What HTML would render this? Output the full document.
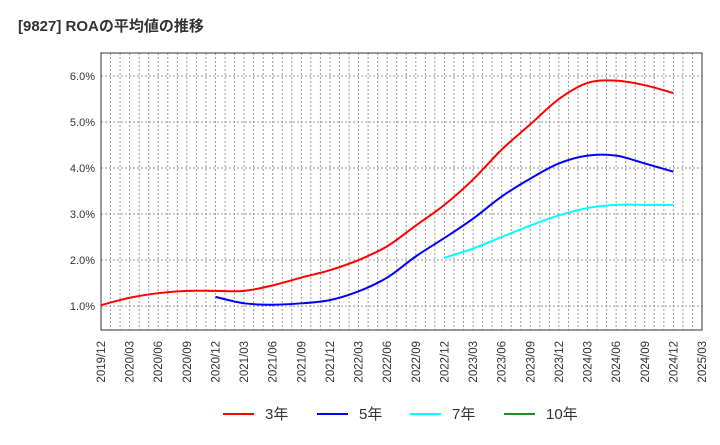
<!DOCTYPE html>
<html><head><meta charset="utf-8"><style>
body{margin:0;background:#fff;width:720px;height:440px;overflow:hidden;font-family:"Liberation Sans","Noto Sans CJK JP",sans-serif}
</style></head><body>
<svg id="c" width="720" height="440" xmlns="http://www.w3.org/2000/svg">
<text x="18" y="31" font-size="15" font-weight="bold" fill="#333">[9827]  ROAの平均値の推移</text>
</svg>
<script>
const categories=["2019/12","2020/03","2020/06","2020/09","2020/12","2021/03","2021/06","2021/09","2021/12","2022/03","2022/06","2022/09","2022/12","2023/03","2023/06","2023/09","2023/12","2024/03","2024/06","2024/09","2024/12","2025/03"];
const yTicks=[1,2,3,4,5,6];
const s3=[1.02,1.18,1.28,1.33,1.33,1.33,1.45,1.62,1.78,2.0,2.3,2.75,3.2,3.75,4.4,4.95,5.5,5.85,5.9,5.8,5.63];
const s5=[null,null,null,null,1.2,1.06,1.03,1.06,1.13,1.32,1.62,2.08,2.48,2.9,3.38,3.77,4.1,4.27,4.27,4.1,3.92];
const s7=[null,null,null,null,null,null,null,null,null,null,null,null,2.05,2.25,2.5,2.75,2.97,3.13,3.2,3.2,3.2];
const s10=[];
const L=101,R=702,T=53,B=330,ymin=0.48,ymax=6.5;
const NS="http://www.w3.org/2000/svg",svg=document.getElementById('c');
const xs=i=>L+i*(R-L)/(categories.length-1);
const ys=v=>B-(v-ymin)/(ymax-ymin)*(B-T);
function mk(t,a){const e=document.createElementNS(NS,t);for(const k in a)e.setAttribute(k,a[k]);svg.appendChild(e);return e;}
const bg=mk('rect',{x:L,y:T,width:R-L,height:B-T,fill:'#fff'});


const months=(categories.length-1)*3;
for(let m=1;m<months;m++){const x=L+m*(R-L)/months;
const g=mk('line',{x1:x,x2:x,y1:T,y2:B,stroke:'#999','stroke-dasharray':'2,2','stroke-width':1});

}
yTicks.forEach(v=>{const y=ys(v);
const g=mk('line',{x1:L,x2:R,y1:y,y2:y,stroke:'#999','stroke-dasharray':'2,2'});


const t=mk('text',{x:L-6,y:y+4,'text-anchor':'end','font-size':11,fill:'#333'});t.textContent=v.toFixed(1)+'%';

});
categories.forEach((c,i)=>{const x=xs(i);
const t=mk('text',{transform:`translate(${x+4},${B+11}) rotate(-90)`,'text-anchor':'end','font-size':11.5,fill:'#333'});t.textContent=c;

});
const fr=mk('rect',{x:L,y:T,width:R-L,height:B-T,fill:'none',stroke:'#333'});


function path(arr){const p=[];arr.forEach((v,i)=>{if(v!=null)p.push([xs(i),ys(v)]);});if(p.length<2)return '';
let d=`M${p[0][0]},${p[0][1]}`;
for(let i=0;i<p.length-1;i++){const p0=p[i-1]||p[i],p1=p[i],p2=p[i+1],p3=p[i+2]||p2;
d+=` C${p1[0]+(p2[0]-p0[0])/6},${p1[1]+(p2[1]-p0[1])/6} ${p2[0]-(p3[0]-p1[0])/6},${p2[1]-(p3[1]-p1[1])/6} ${p2[0]},${p2[1]}`;}return d;}
[[s3,'#ff0000','line-3yr'],[s5,'#0000ff','line-5yr'],[s7,'#00ffff','line-7yr'],[s10,'#008000','line-10yr']].forEach(([a,c,n])=>{
const d=path(a);if(!d)return;const e=mk('path',{d:d,fill:'none',stroke:c,'stroke-width':2});

});
const leg=[['3年','#ff0000',223],['5年','#0000ff',317],['7年','#00ffff',410],['10年','#228b22',504]];
leg.forEach(([l,c,x])=>{
const ln=mk('line',{x1:x,x2:x+31,y1:414,y2:414,stroke:c,'stroke-width':2});


const t=mk('text',{x:x+42,y:419,'font-size':15,fill:'#333'});t.textContent=l;

});
</script>
</body></html>
